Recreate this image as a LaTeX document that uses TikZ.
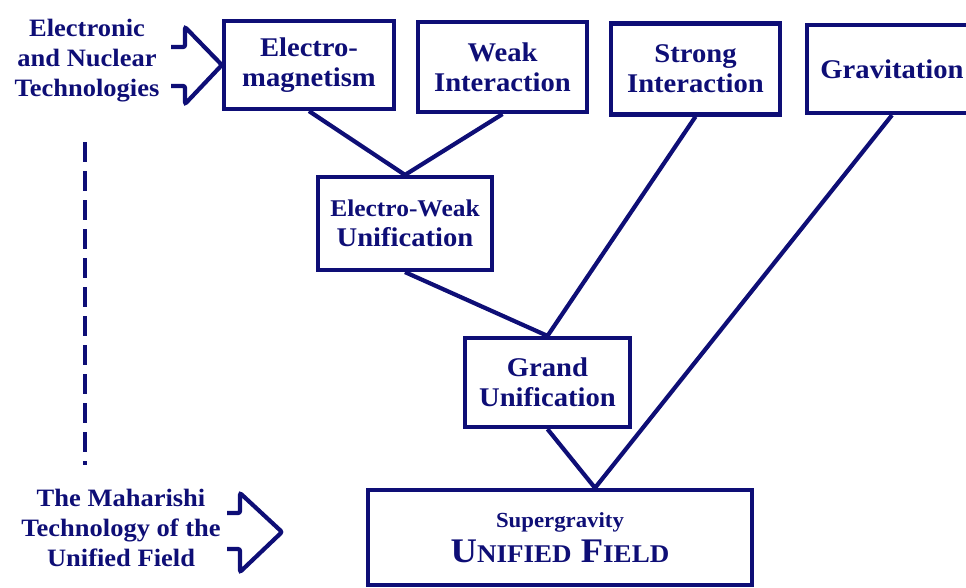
\documentclass[tikz,border=0pt]{standalone}
\usepackage{fontspec}
\setmainfont{Liberation Serif}[FakeStretch=1.06]
\definecolor{navy}{RGB}{14,14,118}
\tikzset{
  box/.style={draw=navy, line width=4.2pt, text=navy, align=center, inner sep=2pt,
    font=\fontsize{27}{30}\selectfont\bfseries},
  conn/.style={draw=navy, line width=4.2pt},
  sidetext/.style={text=navy, align=center, inner sep=0pt,
    font=\fontsize{25}{30}\selectfont\bfseries},
  sidearrow/.style={draw=navy, line width=4.2pt, line join=miter, rounded corners=2pt},
  dashline/.style={draw=navy, line width=4.5pt, dash pattern=on 20pt off 9pt}
}
\begin{document}
\begin{tikzpicture}[x=1pt,y=-1pt]
\useasboundingbox (0,0) rectangle (966,587);
% boxes
\node[box, minimum width=170pt, minimum height=88pt] (em) at (309,65) {Electro-\\magnetism};
\node[box, minimum width=169pt, minimum height=90pt] (weak) at (502.5,67) {Weak\\Interaction};
\node[box, minimum width=169pt, minimum height=91pt] (strong) at (695.5,69) {Strong\\Interaction};
\node[box, minimum width=170pt, minimum height=88pt] (grav) at (892,69) {Gravitation};
\node[box, minimum width=174pt, minimum height=93pt] (ew) at (405,223.5) {{\fontsize{24}{30}\selectfont Electro-Weak}\\Unification};
\node[box, minimum width=165pt, minimum height=89pt] (grand) at (547.5,382.5) {Grand\\Unification};
\node[box, minimum width=384pt, minimum height=95pt] (uf) at (560,537.5)
  {{\fontsize{21.5}{24}\selectfont Supergravity}\\[5pt]{\fontsize{34.5}{36}\selectfont U{\fontsize{25.5}{27}\selectfont NIFIED} F{\fontsize{25.5}{27}\selectfont IELD}}};
\coordinate (meet) at ([xshift=35pt]uf.north);
% connectors
\draw[conn] (em.south) -- (ew.north) -- (weak.south);
\draw[conn] (ew.south) -- (grand.north) -- (strong.south);
\draw[conn] (grand.south) -- (meet) -- (grav.south);
% left texts
\node[sidetext] (top) at (87,61) {Electronic\\and Nuclear\\Technologies};
\node[sidetext] (bottom) at (121,528) {The Maharishi\\Technology of the\\Unified Field};
% arrows
\draw[sidearrow] (171,47) -- (185,47) -- (185,27) -- (em.west) -- (185,104) -- (185,86) -- (171,86);
\coordinate (btip) at (282,532);
\draw[sidearrow] (227,513) -- (240,513) -- (240,493) -- (btip) -- (240,572) -- (240,549) -- (227,549);
% dashed line
\coordinate (dtop) at (85,142);
\coordinate (dbot) at (85,465);
\draw[dashline] (dtop) -- (dbot);
\end{tikzpicture}
\end{document}
